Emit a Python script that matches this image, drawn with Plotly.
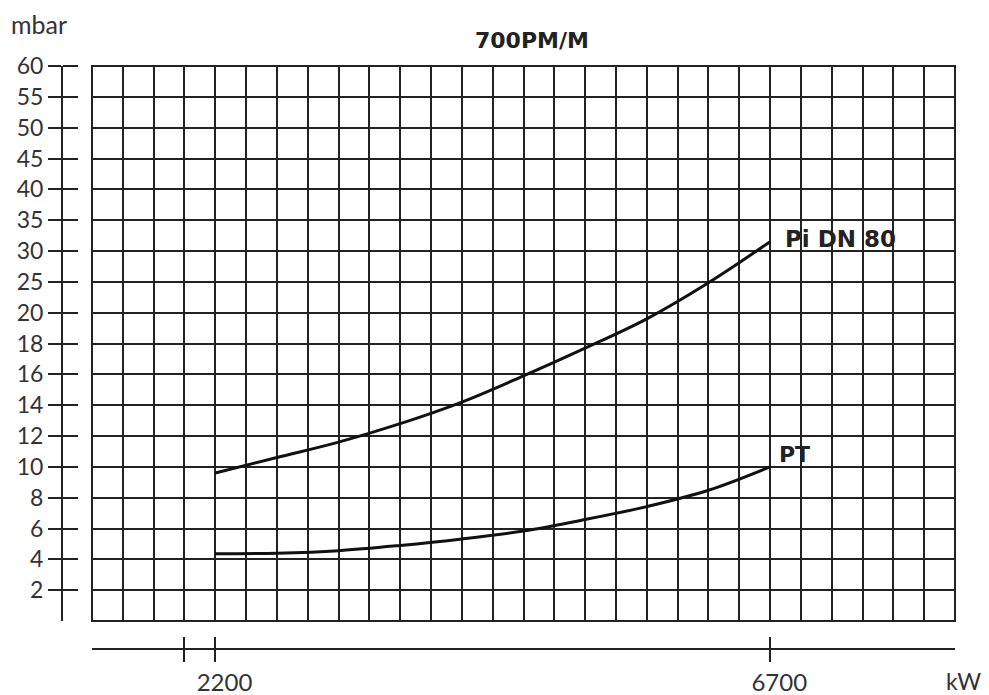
import plotly.graph_objects as go

# ---- data ----
kw = [2200, 2700, 3200, 3700, 4200, 4700, 5200, 5700, 6200, 6700]
pi_dn80 = [9.6, 10.6, 11.6, 12.8, 14.2, 15.9, 17.7, 19.6, 24.85, 31.5]
pt = [4.36, 4.4, 4.56, 4.9, 5.32, 5.84, 6.58, 7.42, 8.48, 10.0]

y_tick_values = [2, 4, 6, 8, 10, 12, 14, 16, 18, 20, 25, 30, 35, 40, 45, 50, 55, 60]
x_tick_values = [1950, 2200, 6700]
x_tick_labels = ["", "2200", "6700"]
x_min, x_max, x_step = 1200, 8200, 250


def to_grid(v):
    """Piecewise scale of the chart: steps of 2 mbar up to 20, then 5 mbar."""
    return v / 2 if v <= 20 else 10 + (v - 20) / 5


ink = "#222222"
text_col = "#333333"
font_family = "Lato, 'Open Sans', sans-serif"
bold_family = "'DejaVu Sans', Lato, sans-serif"

# the page body has an 8px margin: the figure is laid out in page pixels minus 8
OFF = 8
W, H = 989 - OFF, 695 - OFF
ml = 62 - OFF            # y axis line
mr = 989 - 955           # right edge of grid
mt = 66 - OFF            # top of grid
mb = 695 - 649           # bottom kW axis line
pw, ph = W - ml - mr, H - mt - mb
x_dom0 = 30 / pw
y_dom0 = 28 / ph


def px(x):
    return (x - OFF - ml) / pw


def py(y):
    return (H - mb - (y - OFF)) / ph


fig = go.Figure()
fig.add_trace(go.Scatter(x=kw, y=[to_grid(v) for v in pi_dn80], mode="lines",
                         line=dict(color="#111111", width=3, shape="spline"),
                         name="Pi DN 80", hoverinfo="skip"))
fig.add_trace(go.Scatter(x=kw, y=[to_grid(v) for v in pt], mode="lines",
                         line=dict(color="#111111", width=3, shape="spline"),
                         name="PT", hoverinfo="skip"))

grid_y = [to_grid(v) for v in y_tick_values]
ymax = to_grid(60)
pad = "\u00a0\u00a0\u00a0"

fig.update_layout(
    width=W, height=H,
    margin=dict(l=ml, r=mr, t=mt, b=mb, autoexpand=False),
    paper_bgcolor="white", plot_bgcolor="white",
    showlegend=False,
    font=dict(family=font_family, color=text_col, size=23),
    xaxis=dict(domain=[x_dom0, 1], range=[x_min, x_max], tick0=x_min, dtick=x_step,
               showgrid=True, gridcolor=ink, gridwidth=2, showticklabels=False,
               ticks="", zeroline=False, showline=False, anchor="y",
               automargin=False),
    xaxis2=dict(overlaying="x", range=[x_min, x_max], anchor="free", position=0,
                side="bottom", showline=True, linecolor=ink, linewidth=2,
                ticks="outside", ticklen=12, tickwidth=2, tickcolor=ink,
                tickvals=x_tick_values,
                ticktext=[pad + t if t else t for t in x_tick_labels],
                showgrid=False, zeroline=False,
                tickfont=dict(size=24, color=text_col), automargin=False),
    xaxis3=dict(overlaying="x", range=[x_min, x_max], anchor="free", position=0,
                side="top", showline=False, ticks="outside", ticklen=12,
                tickwidth=2, tickcolor=ink, tickvals=x_tick_values,
                showticklabels=False, showgrid=False, zeroline=False,
                automargin=False),
    yaxis=dict(domain=[y_dom0, 1], range=[0, ymax], anchor="free", position=0,
               showline=True, linecolor=ink, linewidth=2, ticks="outside",
               ticklen=13, tickwidth=2, tickcolor=ink, tickvals=grid_y,
               ticktext=[str(v) for v in y_tick_values], showgrid=True,
               gridcolor=ink, gridwidth=2, zeroline=False,
               tickfont=dict(size=23, color=text_col), automargin=False),
    yaxis2=dict(overlaying="y", range=[0, ymax], anchor="free", position=0,
                side="right", showline=False, ticks="outside", ticklen=15,
                tickwidth=2, tickcolor=ink, tickvals=grid_y, showticklabels=False,
                showgrid=False, zeroline=False, automargin=False),
)

# invisible traces to activate the extra axes
fig.add_trace(go.Scatter(x=[x_min], y=[0], xaxis="x2", yaxis="y", mode="markers",
                         marker=dict(opacity=0), hoverinfo="skip"))
fig.add_trace(go.Scatter(x=[x_min], y=[0], xaxis="x3", yaxis="y", mode="markers",
                         marker=dict(opacity=0), hoverinfo="skip"))
fig.add_trace(go.Scatter(x=[x_min], y=[0], xaxis="x", yaxis="y2", mode="markers",
                         marker=dict(opacity=0), hoverinfo="skip"))

# border of the grid
fig.add_shape(type="rect", xref="x domain", yref="y domain", x0=0, x1=1, y0=0, y1=1,
              line=dict(color=ink, width=2), layer="above")

fig.add_annotation(text="<b>700PM/M</b>", xref="paper", yref="paper",
                   x=px(532), y=py(40), showarrow=False,
                   font=dict(family=bold_family, size=22, color="#222222"),
                   xanchor="center", yanchor="middle")
fig.add_annotation(text="mbar", xref="paper", yref="paper",
                   x=px(9), y=py(24), showarrow=False,
                   font=dict(size=25, color=text_col), xanchor="left", yanchor="middle")
fig.add_annotation(text="kW", xref="paper", yref="paper",
                   x=px(944), y=py(681), showarrow=False,
                   font=dict(size=23, color=text_col), xanchor="left", yanchor="middle")
fig.add_annotation(text="<b>Pi DN 80</b>", xref="x", yref="y", x=kw[-1],
                   y=to_grid(pi_dn80[-1]), xshift=13, yshift=3, showarrow=False,
                   font=dict(family=bold_family, size=23, color="#222222"),
                   xanchor="left", yanchor="middle")
fig.add_annotation(text="<b>PT</b>", xref="x", yref="y", x=kw[-1],
                   y=to_grid(pt[-1]), xshift=7, yshift=12, showarrow=False,
                   font=dict(family=bold_family, size=22, color="#222222"),
                   xanchor="left", yanchor="middle")

fig.write_html("out.html")
